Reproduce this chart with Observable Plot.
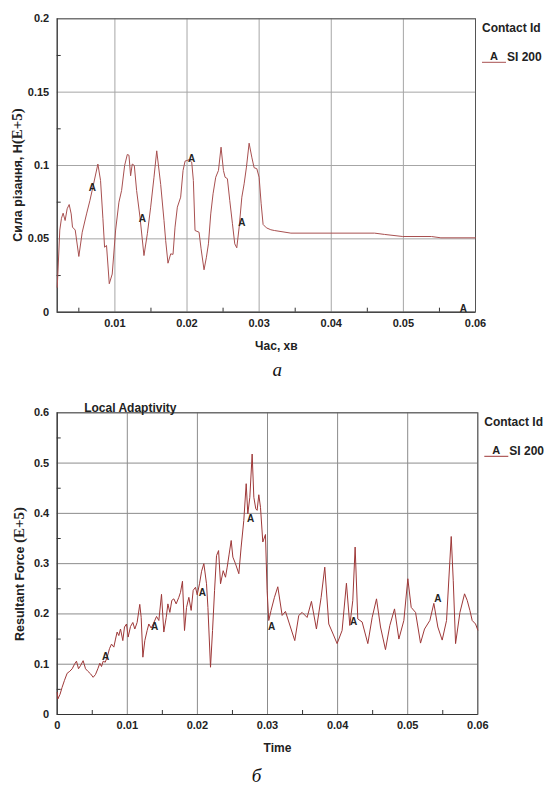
<!DOCTYPE html>
<html>
<head>
<meta charset="utf-8">
<script src="https://cdn.jsdelivr.net/npm/d3@7"></script>
<script src="https://cdn.jsdelivr.net/npm/@observablehq/plot@0.6"></script>
<style>
  body { margin: 0; background: #fff; }
  #figure { width: 544px; }
  #figure svg { display: block; }
</style>
</head>
<body>
<div id="figure"></div>
<script>
// ---- Panel а: cutting force vs. time ----
const timeA = [0.002, 0.00209, 0.00236, 0.00259, 0.00282, 0.0031, 0.00338, 0.00366, 0.00394, 0.00412,
  0.0045, 0.005, 0.00547, 0.00607, 0.00653, 0.007, 0.00764, 0.00801, 0.00834, 0.00857,
  0.00884, 0.00922, 0.00963, 0.0101, 0.01056, 0.01093, 0.01135, 0.01172, 0.01195, 0.01218,
  0.01241, 0.01269, 0.01301, 0.01348, 0.01403, 0.0145, 0.01496, 0.01542, 0.0158, 0.01635,
  0.01681, 0.01704, 0.01736, 0.01774, 0.01806, 0.01834, 0.01866, 0.01912, 0.01945, 0.01973,
  0.02028, 0.02065, 0.02088, 0.02111, 0.02167, 0.02195, 0.02236, 0.02269, 0.02297, 0.02329,
  0.02361, 0.02398, 0.02436, 0.02472, 0.02505, 0.02528, 0.0256, 0.02593, 0.0263, 0.02662,
  0.0269, 0.02723, 0.0276, 0.02792, 0.02824, 0.02861, 0.02898, 0.0293, 0.02968, 0.03,
  0.03028, 0.03055, 0.03101, 0.03162, 0.0321, 0.0344, 0.046, 0.0474, 0.0499, 0.0539,
  0.0552, 0.06];
const forceA = [0.017, 0.026, 0.056, 0.064, 0.0675, 0.0625, 0.0705, 0.0734, 0.067, 0.058,
  0.056, 0.038, 0.0545, 0.067, 0.076, 0.0864, 0.101, 0.0898, 0.0637, 0.0443,
  0.0455, 0.0194, 0.026, 0.056, 0.075, 0.083, 0.1, 0.1075, 0.107, 0.093,
  0.101, 0.1, 0.083, 0.0648, 0.0386, 0.0535, 0.0716, 0.092, 0.11, 0.087,
  0.0625, 0.0489, 0.0334, 0.0398, 0.0394, 0.058, 0.0716, 0.0784, 0.0966, 0.103,
  0.1039, 0.1023, 0.0898, 0.0557, 0.0545, 0.0432, 0.0289, 0.0375, 0.0466, 0.067,
  0.0807, 0.092, 0.0966, 0.1125, 0.0966, 0.092, 0.091, 0.076, 0.0603, 0.0466,
  0.0439, 0.058, 0.0784, 0.0875, 0.0989, 0.1152, 0.1057, 0.0985, 0.0978, 0.092,
  0.0739, 0.0598, 0.0575, 0.0562, 0.0557, 0.0539, 0.0539, 0.053, 0.0516, 0.0516,
  0.0507, 0.0507];
const markTimeA = [0.00686, 0.0138, 0.02065, 0.0276, 0.0583];
const markForceA = [0.0848, 0.0636, 0.1046, 0.0607, 0.0023];
const xDomainA = [0.002, 0.06];
const yDomainA = [0, 0.2];
const xTicksA = [0.01, 0.02, 0.03, 0.04, 0.05, 0.06];
const yTicksA = [0, 0.05, 0.1, 0.15, 0.2];
const xMinorA = [0.005, 0.015, 0.025, 0.035, 0.045, 0.055];
const yMinorA = [0.025, 0.075, 0.125, 0.175];

// ---- Panel б: resultant force vs. time ----
const timeB = [0, 0.0001, 0.0004, 0.0007, 0.00104, 0.00142, 0.0018, 0.00214, 0.00247, 0.00275,
  0.00304, 0.00332, 0.0037, 0.00404, 0.00437, 0.00475, 0.00513, 0.00546, 0.0058, 0.00608,
  0.00632, 0.00656, 0.00685, 0.00713, 0.00746, 0.00775, 0.00808, 0.00832, 0.00855, 0.00879,
  0.00903, 0.00936, 0.0096, 0.00989, 0.01012, 0.01046, 0.01079, 0.01107, 0.0114, 0.01178,
  0.01198, 0.01222, 0.0125, 0.01283, 0.01307, 0.0134, 0.0137, 0.01417, 0.0145, 0.01488,
  0.01521, 0.01555, 0.01579, 0.01607, 0.01635, 0.01664, 0.01697, 0.01735, 0.01759, 0.01787,
  0.01816, 0.01845, 0.01878, 0.01911, 0.0194, 0.01973, 0.01997, 0.0203, 0.0206, 0.02092,
  0.0213, 0.0215, 0.02187, 0.02216, 0.02245, 0.02273, 0.02302, 0.0233, 0.02368, 0.02401,
  0.02425, 0.02453, 0.02482, 0.02506, 0.02543, 0.02591, 0.02624, 0.02662, 0.02696, 0.02719,
  0.02748, 0.02781, 0.02805, 0.02833, 0.02852, 0.02876, 0.029, 0.02933, 0.02971, 0.02994,
  0.03018, 0.03051, 0.03099, 0.03147, 0.03209, 0.03256, 0.03327, 0.03389, 0.03446, 0.03494,
  0.03565, 0.03627, 0.03698, 0.03765, 0.03817, 0.03874, 0.03936, 0.03993, 0.04064, 0.04126,
  0.04174, 0.04217, 0.0425, 0.04288, 0.0435, 0.04431, 0.04493, 0.04555, 0.04612, 0.04683,
  0.04745, 0.04812, 0.04874, 0.04945, 0.05002, 0.0505, 0.05112, 0.05183, 0.0524, 0.05316,
  0.05373, 0.0543, 0.05492, 0.05554, 0.05621, 0.0565, 0.05683, 0.05745, 0.05811, 0.05849,
  0.05887, 0.0592, 0.05968, 0.06];
const forceB = [0.044, 0.031, 0.04, 0.054, 0.068, 0.082, 0.086, 0.091, 0.1, 0.106,
  0.091, 0.097, 0.107, 0.091, 0.086, 0.081, 0.074, 0.0795, 0.091, 0.102,
  0.0954, 0.106, 0.104, 0.114, 0.131, 0.14, 0.134, 0.15, 0.164, 0.157,
  0.17, 0.147, 0.174, 0.18, 0.154, 0.175, 0.183, 0.17, 0.183, 0.219,
  0.193, 0.114, 0.147, 0.167, 0.18, 0.172, 0.18, 0.195, 0.187, 0.239,
  0.164, 0.193, 0.22, 0.203, 0.227, 0.23, 0.22, 0.233, 0.243, 0.265,
  0.167, 0.213, 0.233, 0.207, 0.247, 0.253, 0.238, 0.26, 0.285, 0.3,
  0.26, 0.213, 0.094, 0.167, 0.247, 0.316, 0.326, 0.26, 0.286, 0.273,
  0.293, 0.319, 0.346, 0.313, 0.3, 0.28, 0.333, 0.386, 0.459, 0.399,
  0.432, 0.518, 0.432, 0.409, 0.406, 0.437, 0.412, 0.343, 0.358, 0.247,
  0.187, 0.207, 0.233, 0.254, 0.197, 0.205, 0.174, 0.147, 0.197, 0.203,
  0.193, 0.225, 0.17, 0.233, 0.293, 0.18, 0.16, 0.141, 0.167, 0.261,
  0.177, 0.227, 0.333, 0.19, 0.184, 0.141, 0.193, 0.23, 0.174, 0.129,
  0.177, 0.21, 0.15, 0.187, 0.27, 0.213, 0.203, 0.142, 0.17, 0.187,
  0.221, 0.174, 0.148, 0.187, 0.354, 0.266, 0.141, 0.203, 0.24, 0.227,
  0.207, 0.187, 0.18, 0.168];
const markTimeB = [0.0069, 0.0139, 0.0207, 0.0276, 0.0306, 0.0423, 0.0543];
const markForceB = [0.114, 0.175, 0.243, 0.39, 0.175, 0.185, 0.23];
const xDomainB = [0, 0.06];
const yDomainB = [0, 0.6];
const xTicksB = [0, 0.01, 0.02, 0.03, 0.04, 0.05, 0.06];
const yTicksB = [0, 0.1, 0.2, 0.3, 0.4, 0.5, 0.6];
const xMinorB = [0.005, 0.015, 0.025, 0.035, 0.045, 0.055];
const yMinorB = [0.05, 0.15, 0.25, 0.35, 0.45, 0.55];

const sans = "'Liberation Sans', Arial, Helvetica, sans-serif";
const serif = "'Liberation Serif', 'Times New Roman', serif";
const fmt = d => String(d);

function panel(cfg) {
  const W = 544;
  const m = cfg.margin;
  const fw = W - m.left - m.right;
  const fh = cfg.height - m.top - m.bottom;
  const svg = Plot.plot({
    width: W,
    height: cfg.height,
    marginLeft: m.left, marginRight: m.right, marginTop: m.top, marginBottom: m.bottom,
    x: {domain: cfg.xDomain, ticks: cfg.xTicks, tickFormat: fmt, tickSize: 0, tickPadding: 7, label: null},
    y: {domain: cfg.yDomain, ticks: cfg.yTicks, tickFormat: fmt, tickSize: 0, tickPadding: 8, label: null},
    style: {fontFamily: sans, fontSize: "11px", fontWeight: "bold", color: "#222", background: "#fff", overflow: "visible"},
    marks: [
      Plot.gridX(cfg.xTicks, {stroke: cfg.gridColor, strokeOpacity: 1}),
      Plot.gridY(cfg.yTicks, {stroke: cfg.gridColor, strokeOpacity: 1}),
      Plot.frame({stroke: "#555"}),
      Plot.ruleX([cfg.xDomain[0]], {stroke: "#333"}),
      Plot.ruleY([cfg.yDomain[0]], {stroke: "#333"}),
      Plot.tickX(cfg.xMinor, {stroke: "#333", insetTop: fh - 4}),
      Plot.tickY(cfg.yMinor, {stroke: "#333", insetRight: fw - 4}),
      Plot.line(cfg.values, {x: cfg.times, y: cfg.values, stroke: cfg.lineColor, strokeWidth: 1, curve: "linear"}),
      Plot.text(cfg.markTimes, {x: cfg.markTimes, y: cfg.markValues, text: () => "A", fontSize: 10, fontWeight: "bold", fill: "#222"}),
      Plot.text([cfg.xLabel], {frameAnchor: "bottom", dx: 10, dy: 37.5, fontSize: 12, fill: "#222"}),
      Plot.text([cfg.letter], {frameAnchor: "bottom", dx: cfg.letterDx, dy: cfg.letterDy, fontSize: 19, fontFamily: serif, fontStyle: "italic", fontWeight: "normal", fill: "#111"}),
      cfg.title ? Plot.text([cfg.title], {frameAnchor: "top-left", textAnchor: "start", dx: 27, dy: -9, fontSize: 12, fill: "#222"}) : null
    ]
  });

  const s = d3.select(svg);
  // rotated y-axis title: sans part plus a serif exponent part
  const yl = s.append("text")
    .attr("transform", `translate(${cfg.yLabelX},${cfg.yLabelY}) rotate(-90)`)
    .attr("text-anchor", "middle")
    .attr("dy", "0.35em")
    .attr("fill", "#222");
  yl.append("tspan").attr("font-family", sans).attr("font-size", 12.5).attr("font-weight", "bold").text(cfg.yLabel);
  yl.append("tspan").attr("font-family", serif).attr("font-size", 15).attr("font-weight", "bold").text(cfg.yUnit);

  // legend on the right of the frame
  const lx = W - m.right + 7;
  const ly = m.top;
  const g = s.append("g")
    .attr("font-family", sans).attr("font-weight", "bold").attr("fill", "#222")
    .attr("text-anchor", "start");
  g.append("text").attr("x", lx).attr("y", ly + 9.4).attr("dy", "0.35em").attr("font-size", 12).text("Contact Id");
  g.append("line").attr("x1", lx).attr("x2", lx + 24).attr("y1", ly + 44).attr("y2", ly + 44)
    .attr("stroke", cfg.lineColor).attr("stroke-width", 1);
  g.append("text").attr("x", lx + 12).attr("y", ly + 38).attr("dy", "0.35em").attr("text-anchor", "middle").attr("font-size", 11).text("A");
  g.append("text").attr("x", lx + 25).attr("y", ly + 38).attr("dy", "0.35em").attr("font-size", 12).text("SI 200");
  return svg;
}

const fig = document.getElementById("figure");
fig.appendChild(panel({
  height: 390,
  margin: {left: 56.7, right: 69, top: 18.3, bottom: 78.3},
  xDomain: xDomainA, yDomain: yDomainA, xTicks: xTicksA, yTicks: yTicksA, xMinor: xMinorA, yMinor: yMinorA,
  times: timeA, values: forceA, markTimes: markTimeA, markValues: markForceA,
  lineColor: "#a85050", gridColor: "#a6a6a6",
  xLabel: "Час, хв", yLabel: "Сила різання, Н", yUnit: "(E+5)", yLabelX: 18, yLabelY: 175,
  letter: "а", letterDx: 11, letterDy: 64
}));
fig.appendChild(panel({
  height: 403,
  margin: {left: 56.7, right: 66.7, top: 22.3, bottom: 79},
  xDomain: xDomainB, yDomain: yDomainB, xTicks: xTicksB, yTicks: yTicksB, xMinor: xMinorB, yMinor: yMinorB,
  times: timeB, values: forceB, markTimes: markTimeB, markValues: markForceB,
  lineColor: "#9e3838", gridColor: "#8c8c8c",
  xLabel: "Time", yLabel: "Resultant Force ", yUnit: "(E+5)", yLabelX: 20, yLabelY: 184,
  letter: "б", letterDx: -11, letterDy: 67.7,
  title: "Local Adaptivity"
}));
</script>
</body>
</html>
